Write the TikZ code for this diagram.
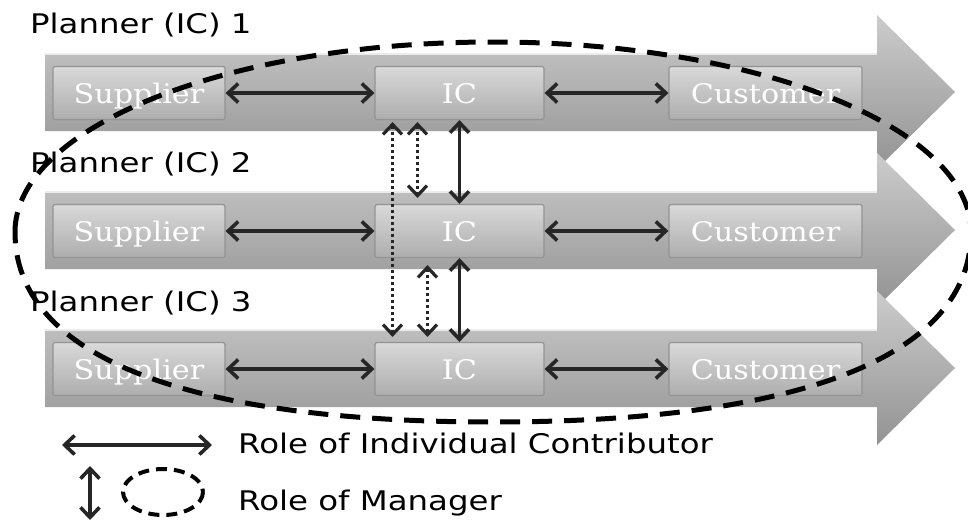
\documentclass[tikz,border=0pt]{standalone}
\usepackage{fontspec}
\newfontfamily\plannerfont[FakeStretch=1.2]{DejaVu Sans}
\newfontfamily\boxfont[FakeStretch=1.12]{DejaVu Serif}
\usepackage{tikz}
\usetikzlibrary{arrows.meta, positioning}
\tikzstyle{rowarrow} = [top color=gray!40, middle color=gray!63, bottom color=gray!85]
\tikzstyle{box} = [rectangle, draw=gray!85, line width=1.2pt, rounded corners=2pt,
    top color=gray!30, bottom color=gray!64, minimum height=53pt,
    text height=20pt, text depth=0pt, inner sep=0pt, text=white,
    font=\boxfont\fontsize{27}{27}\selectfont]
\tikzstyle{planner} = [anchor=base west, inner sep=0pt, text=black,
    font=\plannerfont\fontsize{27}{27}\selectfont]
\tikzstyle{icline} = [draw, line width=3.6pt, black!85,
    {Straight Barb[length=10pt,width=19pt]}-{Straight Barb[length=10pt,width=19pt]}]
\tikzstyle{dotline} = [icline, line width=3.2pt, dash pattern=on 3pt off 3pt]
\tikzstyle{mgrring} = [draw, line width=5pt, dash pattern=on 20pt off 12pt]

\begin{document}
\begin{tikzpicture}[x=1pt, y=-1pt, node distance=138pt]
  \useasboundingbox (0,0) rectangle (968,522);
  % Process arrows
  \foreach \c in {92,230,368} {
    \shade[rowarrow] (45,\c-39) -- (877,\c-39) -- (877,\c-77) -- (955,\c)
      -- (877,\c+77) -- (877,\c+39) -- (45,\c+39) -- cycle;
    \draw[gray!15, line width=2pt] (45,\c-38) -- (877,\c-38);
  }

  % Place nodes
  % Planner 1
  \node[box, minimum width=172pt] (sup1) at (139,93) {Supplier};
  \node[box, minimum width=169pt, right of=sup1, node distance=320.5pt] (ic1) {IC};
  \node[box, minimum width=193pt, right of=ic1, node distance=306pt] (cust1) {Customer};
  % Planner 2
  \node[box, minimum width=172pt, below of=sup1] (sup2) {Supplier};
  \node[box, minimum width=169pt, below of=ic1] (ic2) {IC};
  \node[box, minimum width=193pt, below of=cust1] (cust2) {Customer};
  % Planner 3
  \node[box, minimum width=172pt, below of=sup2] (sup3) {Supplier};
  \node[box, minimum width=169pt, below of=ic2] (ic3) {IC};
  \node[box, minimum width=193pt, below of=cust2] (cust3) {Customer};

  \node[planner] (pl1) at (30,33) {Planner (IC) 1};
  \node[planner] (pl2) at (30,172) {Planner (IC) 2};
  \node[planner] (pl3) at (30,311) {Planner (IC) 3};

  % Draw edges
  \path [icline] (sup1) -- (ic1);
  \path [icline] (ic1) -- (cust1);
  \path [icline] (sup2) -- (ic2);
  \path [icline] (ic2) -- (cust2);
  \path [icline] (sup3) -- (ic3);
  \path [icline] (ic3) -- (cust3);

  \path [icline] (ic1) -- (ic2);
  \path [icline] (ic2) -- (ic3);
  \path [dotline] ([xshift=-67pt,yshift=-2pt]ic1.south) -- ([xshift=-67pt,yshift=5pt]ic3.north);
  \path [dotline] ([xshift=-42pt,yshift=-2pt]ic1.south) -- ([xshift=-42pt,yshift=6pt]ic2.north);
  \path [dotline] ([xshift=-32pt,yshift=-7pt]ic2.south) -- ([xshift=-32pt,yshift=5pt]ic3.north);

  % Manager ring
  \path [mgrring] (15,232) .. controls (15,127) and (229,42) .. (493,42)
    .. controls (757,42) and (971,127) .. (971,232)
    .. controls (971,355) and (804,422) .. (493,422)
    .. controls (182,422) and (15,355) .. (15,232) -- cycle;

  % Legend
  \coordinate (lgA) at (62,445);
  \coordinate (lgB) at (212,445);
  \coordinate (lgC) at (90,466);
  \coordinate (lgD) at (90,520);
  \path [icline] (lgA) -- (lgB);
  \path [icline] (lgC) -- (lgD);
  \draw [line width=4pt, dash pattern=on 11pt off 7pt] (163,492) ellipse [x radius=40, y radius=23];
  \node[planner] (lgic) at (238,453) {Role of Individual Contributor};
  \node[planner] (lgmgr) at (238,510) {Role of Manager};
\end{tikzpicture}
\end{document}
